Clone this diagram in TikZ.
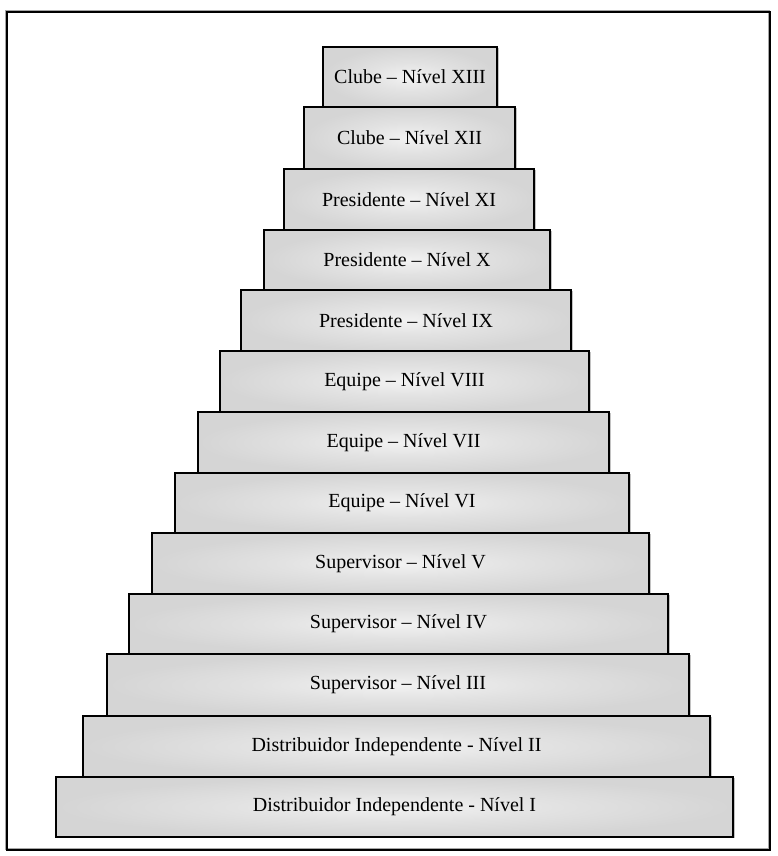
\documentclass[tikz,border=0pt]{standalone}
\usepackage{fontspec}
\setmainfont{Liberation Serif}
\usetikzlibrary{shadows}
\definecolor{shA}{HTML}{F2F2F2}
\definecolor{shB}{HTML}{E2E2E2}
\definecolor{shC}{HTML}{D5D5D5}
\pgfdeclareradialshading{boxshade}{\pgfpoint{0bp}{0bp}}{color(0bp)=(shA); color(12bp)=(shB); color(25bp)=(shC); color(50bp)=(shC)}
\tikzset{
  lvl/.style={draw=black, line width=1.6pt, shading=boxshade, inner sep=0pt, outer sep=0pt,
    font=\fontsize{20}{24}\selectfont,
    drop shadow={shadow xshift=1.6pt, shadow yshift=-1.2pt, fill=gray!80, opacity=0.6}},
  frame/.style={draw=black, line width=1.6pt},
  frameshade/.style={draw=gray!70, line width=1.2pt}
}
\begin{document}
\begin{tikzpicture}[x=1pt,y=-1pt]
\useasboundingbox (0,0) rectangle (777,856);
\draw[frameshade] (5.8,10.8) rectangle (769,849);
\draw[frame] (7,12) rectangle (770,850);
\node[lvl, minimum width=174pt, minimum height=60pt] (n13) at (410,77) {Clube – Nível XIII};
\node[lvl, minimum width=211pt, minimum height=62pt] (n12) at (409.5,138) {Clube – Nível XII};
\node[lvl, minimum width=250pt, minimum height=61pt] (n11) at (409,199.5) {Presidente – Nível XI};
\node[lvl, minimum width=286pt, minimum height=60pt] (n10) at (407,260) {Presidente – Nível X};
\node[lvl, minimum width=330pt, minimum height=61pt] (n9) at (406,320.5) {Presidente – Nível IX};
\node[lvl, minimum width=369pt, minimum height=61pt] (n8) at (404.5,381.5) {Equipe – Nível VIII};
\node[lvl, minimum width=411pt, minimum height=61pt] (n7) at (403.5,442.5) {Equipe – Nível VII};
\node[lvl, minimum width=454pt, minimum height=60pt] (n6) at (402,503) {Equipe – Nível VI};
\node[lvl, minimum width=497pt, minimum height=61pt] (n5) at (400.5,563.5) {Supervisor – Nível V};
\node[lvl, minimum width=539pt, minimum height=60pt] (n4) at (398.5,624) {Supervisor – Nível IV};
\node[lvl, minimum width=582pt, minimum height=62pt] (n3) at (398,685) {Supervisor – Nível III};
\node[lvl, minimum width=627pt, minimum height=61pt] (n2) at (396.5,746.5) {Distribuidor Independente - Nível II};
\node[lvl, minimum width=677pt, minimum height=60pt] (n1) at (394.5,807) {Distribuidor Independente - Nível I};
\end{tikzpicture}
\end{document}
